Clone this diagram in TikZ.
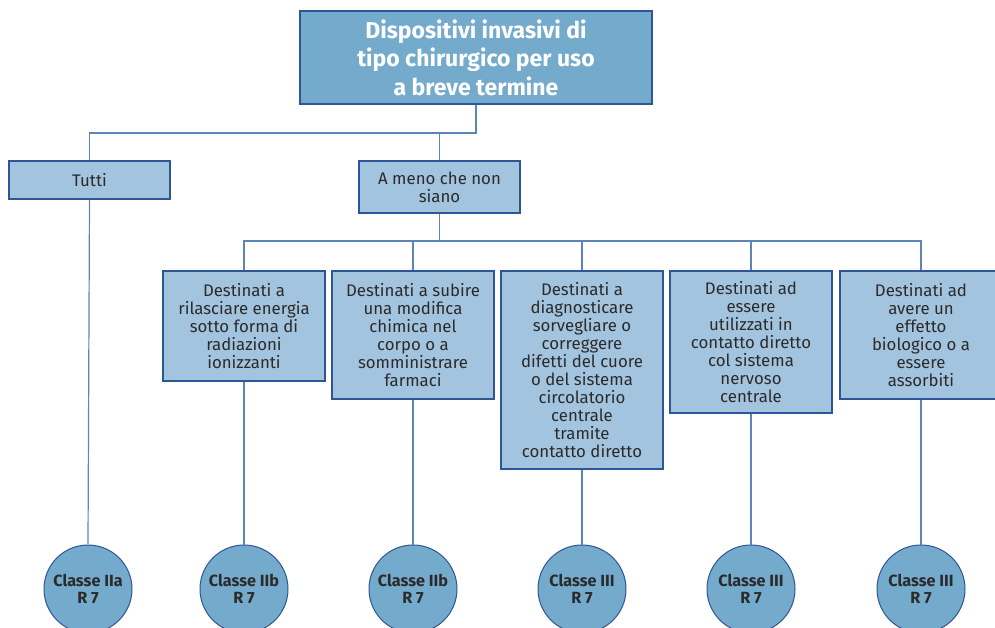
\documentclass[tikz,border=0pt]{standalone}
\usepackage{fontspec}
\setmainfont{Fira Sans}
\definecolor{darkfill}{HTML}{74AACB}
\definecolor{lightfill}{HTML}{A3C4DE}
\definecolor{bordc}{HTML}{2E5596}
\definecolor{linec}{HTML}{5B84B8}
\definecolor{txt}{HTML}{2B2B2B}
\begin{document}
\begin{tikzpicture}[x=1pt,y=-1pt,
  title/.style={draw=bordc, fill=darkfill, line width=1.2pt, text=white,
    font=\fontsize{23}{28.5}\selectfont\bfseries, align=center,
    minimum width=352pt, minimum height=93pt, inner sep=0pt},
  box/.style={draw=bordc, fill=lightfill, line width=1.2pt, text=txt,
    font=\fontsize{16.8}{18}\selectfont, align=center,
    minimum width=162pt, inner sep=0pt},
  circ/.style={circle, draw=bordc, fill=darkfill, line width=1pt, minimum size=88pt,
    inner sep=0pt, font=\fontsize{16.2}{17}\selectfont\bfseries, align=center, text=txt},
  conn/.style={draw=linec, line width=1.2pt}]
\useasboundingbox (0,0) rectangle (995,628);
\clip (0,0) rectangle (995,628);

\node[title] (T) at (476,57.5) {Dispositivi invasivi di\\tipo chirurgico per uso\\a breve termine};
\node[box, minimum width=161pt, minimum height=38pt] (tutti) at (89.5,180) {Tutti};
\node[box, minimum width=161pt, minimum height=52pt] (amc) at (439.5,187) {A meno che non\\siano};

\node[box, minimum height=110pt] (b1) at (244,326) {Destinati a\\rilasciare energia\\sotto forma di\\radiazioni\\ionizzanti};
\node[box, minimum height=128pt] (b2) at (413,335) {Destinati a subire\\una modifica\\chimica nel\\corpo o a\\somministrare\\farmaci};
\node[box, minimum height=198pt] (b3) at (582,370) {Destinati a\\diagnosticare\\sorvegliare o\\correggere\\difetti del cuore\\o del sistema\\circolatorio\\centrale\\tramite\\contatto diretto};
\node[box, minimum height=142pt] (b4) at (751,342) {Destinati ad\\essere\\utilizzati in\\contatto diretto\\col sistema\\nervoso\\centrale};
\node[box, minimum height=128pt] (b5) at (921,335) {Destinati ad\\avere un\\effetto\\biologico o a\\essere\\assorbiti};

\node[circ] (c0) at (88,589) {Classe IIa\\R 7};
\node[circ] (c1) at (244,589) {Classe IIb\\R 7};
\node[circ] (c2) at (413,589) {Classe IIb\\R 7};
\node[circ] (c3) at (582,589) {Classe III\\R 7};
\node[circ] (c4) at (751,589) {Classe III\\R 7};
\node[circ] (c5) at (921,589) {Classe III\\R 7};

\coordinate (j1) at (476,133);
\coordinate (j2) at (439.5,241);
\draw[conn] (T.south) -- (j1) -| (tutti.north);
\draw[conn] (j1 -| amc.north) -- (amc.north);
\draw[conn] (amc.south) -- (j2);
\draw[conn] (b1.north) |- (b5.north |- j2) -- (b5.north);
\draw[conn] (b2.north) -- (b2.north |- j2);
\draw[conn] (b3.north) -- (b3.north |- j2);
\draw[conn] (b4.north) -- (b4.north |- j2);

\draw[conn] (tutti.south) -- (c0.north);
\draw[conn] (b1.south) -- (c1.north);
\draw[conn] (b2.south) -- (c2.north);
\draw[conn] (b3.south) -- (c3.north);
\draw[conn] (b4.south) -- (c4.north);
\draw[conn] (b5.south) -- (c5.north);
\end{tikzpicture}
\end{document}
